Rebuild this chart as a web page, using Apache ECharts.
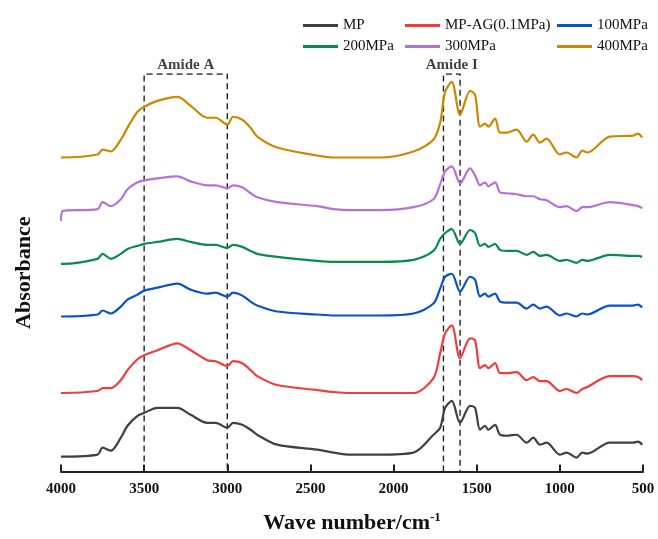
<!DOCTYPE html>
<html>
<head>
<meta charset="utf-8">
<script src="https://cdn.jsdelivr.net/npm/echarts@6/dist/echarts.min.js"></script>
<style>
  html, body { margin: 0; padding: 0; background: #fff; }
  #main { width: 658px; height: 539px; }
</style>
</head>
<body>
<div id="main"></div>
<script>
// wave numbers (cm-1)
var waveNumbers = [4000, 3990, 3780, 3750, 3700, 3640, 3600, 3540, 3500, 3420, 3300, 3220, 3120, 3070, 3000, 2965, 2910, 2860, 2820, 2700, 2460, 2360, 2260, 2080, 1880, 1760, 1720, 1690, 1650, 1600, 1540, 1510, 1480, 1450, 1430, 1390, 1360, 1320, 1260, 1200, 1160, 1120, 1080, 1000, 960, 900, 865, 835, 700, 560, 530, 505];

// absorbance (a.u., stacked offsets as drawn)
var mp      = [15, 15, 17, 24, 21, 34, 46, 56, 59, 64, 64, 57, 49, 49, 44, 49, 47, 42, 37, 27, 22, 19, 17, 17, 19, 37, 44, 64, 71, 49, 66, 64, 42, 46, 42, 47, 37, 36, 37, 29, 34, 27, 29, 17, 19, 14, 19, 18, 29, 29, 30, 27];
var mpAg    = [79, 79, 81, 84, 84, 92, 102, 113, 117, 122, 129, 122, 112, 111, 106, 111, 109, 102, 96, 87, 82, 80, 79, 79, 79, 94, 119, 139, 147, 114, 134, 132, 104, 107, 104, 109, 99, 99, 100, 92, 95, 91, 91, 81, 83, 79, 83, 85, 96, 96, 95, 92];
var mpa100  = [156, 156, 158, 162, 159, 166, 173, 178, 182, 185, 189, 183, 179, 180, 176, 180, 177, 171, 167, 161, 158, 157, 157, 157, 159, 169, 184, 196, 199, 181, 196, 193, 176, 179, 176, 179, 171, 170, 170, 164, 168, 164, 166, 157, 159, 156, 159, 158, 167, 167, 168, 165];
var mpa200  = [209, 209, 214, 219, 214, 219, 224, 227, 229, 231, 234, 231, 228, 228, 225, 228, 226, 222, 219, 216, 212, 211, 211, 211, 213, 222, 234, 240, 244, 229, 243, 240, 227, 229, 226, 229, 223, 222, 222, 218, 221, 217, 218, 212, 213, 210, 213, 212, 218, 217, 217, 216];
var mpa300  = [252, 262, 264, 271, 267, 274, 284, 291, 293, 295, 297, 292, 288, 288, 285, 288, 286, 280, 276, 271, 267, 264, 263, 263, 266, 274, 289, 302, 307, 290, 305, 298, 288, 291, 287, 291, 281, 280, 279, 277, 277, 274, 273, 266, 267, 262, 266, 266, 271, 268, 267, 265];
var mpa400  = [316, 316, 319, 324, 322, 334, 346, 362, 367, 373, 377, 368, 356, 356, 349, 357, 354, 346, 337, 326, 318, 316, 316, 316, 322, 334, 351, 382, 392, 359, 383, 379, 347, 350, 347, 355, 341, 341, 344, 332, 339, 331, 335, 319, 321, 316, 323, 321, 337, 338, 340, 336];

var seriesNames = ['MP', 'MP-AG(0.1MPa)', '100MPa', '200MPa', '300MPa', '400MPa'];
var seriesData = [mp, mpAg, mpa100, mpa200, mpa300, mpa400];
var colors = ['#404040', '#f03c3c', '#0a52c8', '#0a8a4f', '#b472d8', '#cc8800'];

// dashed band limits and labels
var amideA = [3500, 3000];
var amideI = [1700, 1600];
var yTop = 400;

var font = '"Liberation Serif", "Times New Roman", serif';

function pairs(ys) {
    return ys.map(function (v, i) { return [waveNumbers[i], v]; });
}
function box(band) {
    return [[band[0], 0], [band[0], yTop], [band[1], yTop], [band[1], 0]];
}

var chart = echarts.init(document.getElementById('main'));

var series = seriesNames.map(function (name, i) {
    return {
        name: name,
        type: 'line',
        data: pairs(seriesData[i]),
        showSymbol: false,
        smooth: 0.3,
        lineStyle: { color: colors[i], width: 2.2 },
        itemStyle: { color: colors[i] },
        z: 3
    };
});
[amideA, amideI].forEach(function (band) {
    series.push({
        type: 'line',
        data: box(band),
        showSymbol: false,
        silent: true,
        lineStyle: { color: '#222', width: 1.4, type: [6, 4] },
        z: 2
    });
});
series.push({
    type: 'scatter',
    symbolSize: 0,
    silent: true,
    data: [
        { value: [(amideA[0] + amideA[1]) / 2, yTop], name: 'Amide A' },
        { value: [(amideI[0] + amideI[1]) / 2, yTop], name: 'Amide I' }
    ],
    label: {
        show: true,
        position: 'top',
        distance: 1,
        formatter: '{b}',
        color: '#111',
        fontFamily: font,
        fontWeight: 'bold',
        fontSize: 15
    }
});

// legend positions: two rows of three
var legendPos = [[298, 13], [400, 13], [552, 13], [298, 34], [400, 34], [552, 34]];
var legends = seriesNames.map(function (name, i) {
    return {
        data: [name],
        left: legendPos[i][0],
        top: legendPos[i][1],
        icon: 'rect',
        itemWidth: 35,
        itemHeight: 3,
        selectedMode: false,
        textStyle: { fontFamily: font, fontSize: 15, color: '#111' }
    };
});

chart.setOption({
    animation: false,
    backgroundColor: '#fff',
    grid: { left: 61, right: 15, top: 74, bottom: 65 },
    legend: legends,
    xAxis: {
        type: 'value',
        min: 500,
        max: 4000,
        interval: 500,
        inverse: true,
        name: 'Wave number/cm{sup|-1}',
        nameLocation: 'middle',
        nameGap: 40,
        nameTextStyle: {
            fontFamily: font, fontWeight: 'bold', fontSize: 22, color: '#111',
            rich: { sup: { fontFamily: font, fontWeight: 'bold', fontSize: 13, color: '#111', verticalAlign: 'top', padding: [0, 0, 10, 0] } }
        },
        axisLine: { lineStyle: { color: '#222', width: 2 } },
        axisTick: { inside: true, length: 7, lineStyle: { color: '#222', width: 2 } },
        axisLabel: {
            margin: 10, fontFamily: font, fontWeight: 'bold', fontSize: 15, color: '#111',
            formatter: function (v) { return String(v); }
        },
        splitLine: { show: false }
    },
    yAxis: {
        type: 'value',
        min: 0,
        max: yTop,
        name: 'Absorbance',
        nameLocation: 'middle',
        nameRotate: 90,
        nameGap: 26,
        nameTextStyle: { fontFamily: font, fontWeight: 'bold', fontSize: 22, color: '#111' },
        axisLine: { show: false },
        axisTick: { show: false },
        axisLabel: { show: false },
        splitLine: { show: false }
    },
    series: series
});
</script>
</body>
</html>
